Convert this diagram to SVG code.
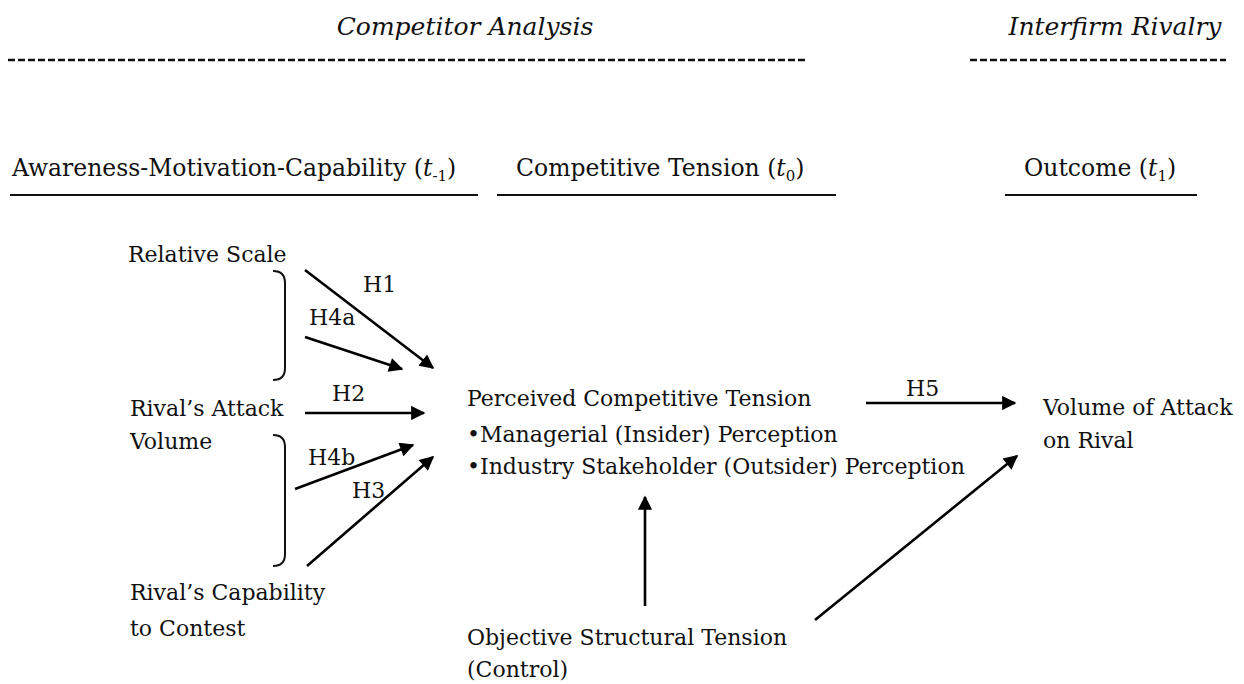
<svg xmlns="http://www.w3.org/2000/svg" width="1244" height="684" viewBox="0 0 1244 684">
<style>
text{font-family:"DejaVu Serif","Liberation Serif",serif;font-size:22px;fill:#111}
.hd{font-size:25px;font-style:italic}
.sec{font-size:23.5px}
.sub{font-size:15px}
.dash{stroke:#111;stroke-width:2.5;stroke-dasharray:7 3;fill:none}
.ul{stroke:#111;stroke-width:2;fill:none}
.arr{stroke:#000;stroke-width:2.6;fill:none;marker-end:url(#ah)}
.br{stroke:#111;stroke-width:2;fill:none}
</style>
<defs>
<marker id="ah" viewBox="0 0 10 10" refX="9" refY="5" markerWidth="6.5" markerHeight="5.5" markerUnits="strokeWidth" orient="auto">
<path d="M0,0 L10,5 L0,10 z" fill="#000"/>
</marker>
</defs>
<rect width="1244" height="684" fill="#fff"/>
<g id="headers">
<text class="hd" x="465" y="35" text-anchor="middle">Competitor Analysis</text>
<line class="dash" x1="8" y1="60" x2="805" y2="60"/>
<text class="hd" x="1115" y="35" text-anchor="middle">Interfirm Rivalry</text>
<line class="dash" x1="970" y1="60" x2="1226" y2="60"/>
<text class="sec" x="12" y="176">Awareness-Motivation-Capability (<tspan font-style="italic">t</tspan><tspan class="sub" dy="5">-1</tspan><tspan dy="-5">)</tspan></text>
<line class="ul" x1="10" y1="195" x2="478" y2="195"/>
<text class="sec" x="516" y="176">Competitive Tension (<tspan font-style="italic">t</tspan><tspan class="sub" dy="5">0</tspan><tspan dy="-5">)</tspan></text>
<line class="ul" x1="497" y1="195" x2="836" y2="195"/>
<text class="sec" x="1024" y="176">Outcome (<tspan font-style="italic">t</tspan><tspan class="sub" dy="5">1</tspan><tspan dy="-5">)</tspan></text>
<line class="ul" x1="1005" y1="195" x2="1197" y2="195"/>
</g>
<g id="node-relative-scale"><text x="128" y="262">Relative Scale</text></g>
<g id="node-attack-volume"><text x="130" y="416">Rival’s Attack</text><text x="130" y="449">Volume</text></g>
<g id="node-capability"><text x="130" y="600">Rival’s Capability</text><text x="130" y="636">to Contest</text></g>
<g id="node-perceived"><text x="467" y="406">Perceived Competitive Tension</text><text x="467" y="442">•Managerial (Insider) Perception</text><text x="467" y="474">•Industry Stakeholder (Outsider) Perception</text></g>
<g id="node-outcome"><text x="1043" y="415">Volume of Attack</text><text x="1043" y="448">on Rival</text></g>
<g id="node-objective"><text x="467" y="645">Objective Structural Tension</text><text x="467" y="677">(Control)</text></g>
<g id="connectors">
<path class="br" d="M273,271 Q285,271 285,283 L285,368 Q285,380 273,380"/>
<path class="br" d="M273,435 Q285,435 285,447 L285,554 Q285,566 273,566"/>
<line class="arr" x1="305" y1="270" x2="433" y2="368"/>
<line class="arr" x1="305" y1="337" x2="402" y2="369"/>
<line class="arr" x1="305" y1="413" x2="424" y2="413"/>
<line class="arr" x1="295" y1="489" x2="413" y2="445"/>
<line class="arr" x1="307" y1="566" x2="433" y2="457"/>
<line class="arr" x1="866" y1="403" x2="1015" y2="403"/>
<line class="arr" x1="645" y1="606" x2="645" y2="497"/>
<line class="arr" x1="815" y1="620" x2="1017" y2="456"/>
<text x="363" y="292">H1</text>
<text x="309" y="325">H4a</text>
<text x="332" y="401">H2</text>
<text x="308" y="465">H4b</text>
<text x="352" y="498">H3</text>
<text x="906" y="396">H5</text>
</g>
</svg>
